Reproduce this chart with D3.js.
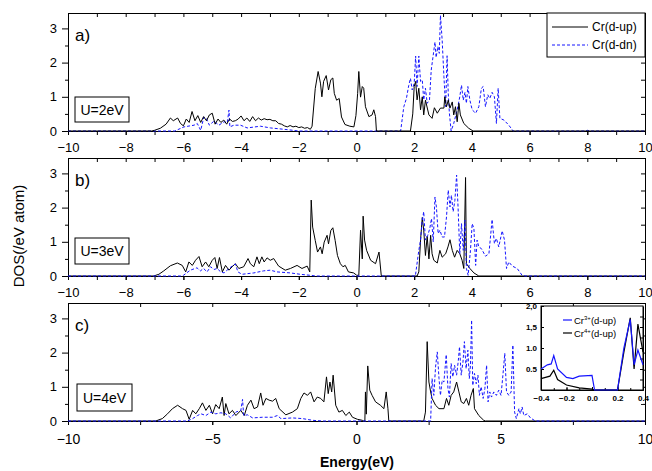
<!DOCTYPE html>
<html><head><meta charset="utf-8">
<script src="https://cdn.jsdelivr.net/npm/d3@7"></script>
<style>body{margin:0;background:#fff} svg{display:block} text{font-family:"Liberation Sans",Arial,Helvetica,sans-serif}</style>
</head><body><svg id="c" width="652" height="471"></svg>
<script>
const panelLabels = ["a)", "b)", "c)"];
const uLabels = ["U=2eV", "U=3eV", "U=4eV"];
const seriesNames = ["Cr(d-up)", "Cr(d-dn)"];
const yTicksMain = [0, 1, 2, 3];
const xTicksAB = [-10, -8, -6, -4, -2, 0, 2, 4, 6, 8, 10];
const xTicksC = [-10, -5, 0, 5, 10];

const aUp = [[-10,0],[-7.1,0],[-7.0,0.02],[-6.8,0.08],[-6.6,0.2],[-6.45,0.38],[-6.35,0.3],[-6.2,0.38],[-6.1,0.22],[-6.0,0.15],[-5.9,0.35],[-5.8,0.25],[-5.7,0.57],[-5.6,0.3],[-5.5,0.45],[-5.4,0.25],[-5.3,0.42],[-5.2,0.3],[-5.1,0.47],[-5.0,0.52],[-4.9,0.2],[-4.8,0.35],[-4.7,0.25],[-4.6,0.32],[-4.5,0.2],[-4.4,0.35],[-4.3,0.28],[-4.2,0.3],[-4.1,0.35],[-4.0,0.44],[-3.9,0.3],[-3.8,0.38],[-3.7,0.28],[-3.6,0.42],[-3.5,0.3],[-3.4,0.38],[-3.3,0.32],[-3.2,0.36],[-3.1,0.33],[-3.0,0.34],[-2.9,0.3],[-2.8,0.3],[-2.7,0.22],[-2.6,0.2],[-2.5,0.15],[-2.4,0.12],[-2.3,0.16],[-2.2,0.12],[-2.1,0.14],[-2.0,0.1],[-1.9,0.12],[-1.8,0.08],[-1.7,0.1],[-1.6,0.05],[-1.54,0.14],[-1.43,1.24],[-1.33,1.74],[-1.25,1.4],[-1.2,1.0],[-1.14,1.45],[-1.05,1.62],[-0.97,1.2],[-0.89,1.5],[-0.82,1.55],[-0.77,1.1],[-0.69,0.9],[-0.6,0.95],[-0.52,0.41],[-0.4,0.19],[-0.23,0.14],[-0.09,0.12],[-0.02,0.45],[0.04,1.1],[0.08,1.74],[0.14,0.99],[0.2,1.3],[0.25,1.25],[0.31,0.71],[0.43,0.42],[0.54,0.47],[0.6,0.62],[0.66,0.42],[0.69,0],[1.87,0],[1.95,0.5],[2.0,1.3],[2.05,1.45],[2.1,0.91],[2.16,1.25],[2.22,0.62],[2.28,1.0],[2.33,0.47],[2.39,0.9],[2.51,0.47],[2.62,0.37],[2.7,0.68],[2.8,0.52],[2.91,0.67],[3.03,0.67],[3.06,1.0],[3.12,0.71],[3.18,0.9],[3.24,0.67],[3.32,0.85],[3.37,0.47],[3.43,0.71],[3.49,0.27],[3.55,0.81],[3.6,0.47],[3.72,0.22],[3.89,0.08],[4.04,0],[10,0]];
const aDn = [[-10,0],[-6.3,0],[-5.98,0.12],[-5.63,0.17],[-5.52,0.22],[-5.4,0.02],[-5.29,0.41],[-5.2,0.36],[-5.1,0.17],[-4.94,0.29],[-4.77,0.17],[-4.59,0.27],[-4.48,0.24],[-4.42,0.61],[-4.39,0.12],[-4.25,0.17],[-4.02,0.17],[-3.79,0.09],[-3.33,0.14],[-2.98,0.09],[-2.4,0.04],[-2.0,0],[1.53,0],[1.64,0.71],[1.73,0.95],[1.81,1.33],[1.87,1.54],[1.93,1.2],[2.0,1.39],[2.05,2.19],[2.1,1.3],[2.16,2.19],[2.22,1.45],[2.28,1.49],[2.33,0.91],[2.39,1.25],[2.45,0.81],[2.53,0.91],[2.59,1.78],[2.66,2.22],[2.72,2.6],[2.76,2.15],[2.82,2.47],[2.87,2.27],[2.91,3.38],[2.97,2.65],[3.03,1.59],[3.09,0.71],[3.14,2.2],[3.18,1.1],[3.22,0.52],[3.28,0],[3.37,0.22],[3.49,0.62],[3.58,1.0],[3.64,1.34],[3.7,0.9],[3.76,1.13],[3.81,0.81],[3.86,1.3],[3.93,0.9],[4.01,0.62],[4.13,0.52],[4.24,0.71],[4.33,1.25],[4.39,1.3],[4.47,0.71],[4.55,1.06],[4.62,0.95],[4.7,1.13],[4.78,1.0],[4.85,0.22],[4.91,1.25],[4.97,0.37],[5.11,0.32],[5.28,0.17],[5.43,0],[7.9,0],[8.0,0.02],[8.1,0],[10,0]];

const bUp = [[-10,0],[-7.03,0],[-6.85,0.05],[-6.68,0.15],[-6.45,0.3],[-6.21,0.38],[-6.04,0.31],[-5.92,0.12],[-5.81,0.41],[-5.69,0.31],[-5.58,0.46],[-5.46,0.57],[-5.35,0.27],[-5.23,0.41],[-5.12,0.27],[-5.0,0.46],[-4.91,0.54],[-4.83,0.22],[-4.75,0.54],[-4.65,0.12],[-4.54,0.31],[-4.42,0.17],[-4.31,0.27],[-4.2,0.36],[-4.08,0.22],[-3.91,0.27],[-3.76,0.51],[-3.68,0.36],[-3.56,0.27],[-3.45,0.56],[-3.37,0.36],[-3.28,0.56],[-3.2,0.41],[-3.1,0.53],[-2.99,0.46],[-2.87,0.51],[-2.7,0.29],[-2.47,0.17],[-2.29,0.22],[-2.06,0.31],[-1.89,0.22],[-1.71,0.29],[-1.62,0.12],[-1.57,2.22],[-1.52,1.43],[-1.43,1.04],[-1.35,0.7],[-1.25,0.85],[-1.19,0.65],[-1.12,0.99],[-1.02,1.19],[-0.97,0.94],[-0.89,1.33],[-0.82,1.41],[-0.74,1.04],[-0.66,0.6],[-0.56,0.36],[-0.47,0.27],[-0.39,0.31],[-0.28,0.12],[-0.1,0.09],[0.01,0.02],[0.08,0.02],[0.14,1.34],[0.2,0.5],[0.23,1.75],[0.28,1.05],[0.35,0.75],[0.49,0.46],[0.66,0.36],[0.78,0.7],[0.86,0],[2.1,0],[2.16,0.12],[2.22,1.05],[2.28,1.71],[2.33,1.34],[2.39,0.6],[2.45,1.16],[2.51,0.5],[2.57,1.19],[2.62,0.65],[2.68,0.46],[2.8,0.38],[2.89,0.75],[2.97,0.55],[3.09,0.65],[3.17,0.85],[3.24,1.06],[3.32,0.75],[3.4,0.55],[3.49,0.75],[3.58,0.65],[3.66,0.46],[3.72,0.22],[3.78,2.88],[3.81,0.36],[3.93,0.22],[4.07,0.09],[4.24,0],[10,0]];
const bDn = [[-10,0],[-6.1,0],[-6.0,0.02],[-5.76,0.17],[-5.53,0.24],[-5.41,0.15],[-5.3,0.22],[-5.18,0.12],[-5.06,0.27],[-4.94,0.19],[-4.83,0.22],[-4.71,0.12],[-4.59,0.09],[-4.42,0.22],[-4.31,0.29],[-4.2,0.35],[-4.11,0.12],[-3.97,0.05],[-3.56,0.09],[-3.22,0.15],[-2.99,0.17],[-2.76,0.12],[-2.29,0.09],[-1.95,0.05],[-1.6,0.02],[-1.4,0],[2.04,0],[2.16,0.75],[2.22,1.05],[2.28,1.63],[2.33,1.88],[2.39,1.05],[2.47,1.19],[2.54,1.39],[2.6,1.68],[2.66,1.0],[2.72,2.31],[2.77,2.02],[2.83,1.24],[2.89,1.34],[2.97,1.14],[3.05,1.14],[3.12,1.73],[3.18,2.51],[3.24,2.02],[3.29,2.36],[3.35,1.88],[3.41,2.21],[3.47,2.95],[3.52,2.02],[3.58,0.65],[3.64,1.53],[3.7,0.75],[3.76,1.63],[3.81,0.22],[3.87,0.02],[3.95,0.75],[4.01,1.53],[4.07,1.39],[4.13,0.31],[4.18,1.05],[4.24,0.85],[4.33,0.8],[4.47,0.58],[4.59,0.65],[4.7,1.65],[4.78,0.95],[4.85,1.1],[4.93,0.85],[5.05,1.32],[5.13,1.05],[5.2,0.22],[5.28,0.41],[5.4,0.29],[5.57,0.22],[5.74,0.02],[5.85,0],[10,0]];

const cUp = [[-10,0],[-6.96,0],[-6.73,0.07],[-6.55,0.21],[-6.38,0.36],[-6.2,0.46],[-6.03,0.36],[-5.91,0.31],[-5.8,0.05],[-5.68,0.31],[-5.57,0.21],[-5.45,0.36],[-5.34,0.53],[-5.22,0.31],[-5.1,0.46],[-4.99,0.21],[-4.88,0.48],[-4.76,0.36],[-4.65,0.7],[-4.59,0.16],[-4.53,0.51],[-4.42,0.21],[-4.3,0.31],[-4.18,0.16],[-4.01,0.31],[-3.89,0.16],[-3.78,0.46],[-3.66,0.61],[-3.55,0.36],[-3.43,0.41],[-3.32,0.82],[-3.24,0.46],[-3.14,0.66],[-3.03,0.61],[-2.91,0.58],[-2.8,0.66],[-2.68,0.36],[-2.45,0.18],[-2.22,0.26],[-2.05,0.36],[-1.93,0.66],[-1.82,0.82],[-1.7,0.75],[-1.59,0.85],[-1.47,0.56],[-1.36,0.7],[-1.24,0.66],[-1.13,0.56],[-1.04,1.29],[-0.98,0.8],[-0.92,1.14],[-0.86,0.85],[-0.81,1.34],[-0.72,0.46],[-0.61,0.26],[-0.49,0.31],[-0.37,0.16],[-0.25,0.26],[-0.14,0.11],[0.03,0.05],[0.2,0.02],[0.25,0],[0.29,0],[0.31,0.85],[0.34,0.2],[0.39,1.61],[0.46,0.9],[0.54,0.75],[0.66,0.56],[0.83,0.46],[0.95,0.36],[1.03,0.85],[1.09,0.36],[1.12,0],[2.33,0],[2.39,0.26],[2.45,2.32],[2.51,1.14],[2.57,0.85],[2.62,0.66],[2.74,0.46],[2.86,0.36],[3.03,0.36],[3.12,0.66],[3.2,0.46],[3.28,0.75],[3.37,0.85],[3.47,1.14],[3.55,0.85],[3.63,0.56],[3.72,0.51],[3.81,0.66],[3.89,0.46],[3.97,0.75],[4.05,0.95],[4.09,0.36],[4.24,0.16],[4.41,0.02],[4.47,0],[10,0]];
const cDn = [[-10,0],[-5.86,0],[-5.68,0.07],[-5.51,0.16],[-5.39,0.21],[-5.22,0.16],[-5.05,0.26],[-4.88,0.21],[-4.7,0.24],[-4.53,0.21],[-4.36,0.09],[-4.18,0.26],[-4.01,0.31],[-3.95,0.63],[-3.91,0.16],[-3.78,0.18],[-3.6,0.09],[-3.26,0.11],[-2.91,0.11],[-2.74,0.16],[-2.62,0.07],[-2.22,0.09],[-1.87,0.07],[-1.52,0.02],[-1.18,0],[2.57,0],[2.62,1.24],[2.68,0.75],[2.74,1.58],[2.8,2.02],[2.86,1.24],[2.91,0.75],[2.97,1.19],[3.03,1.14],[3.11,1.94],[3.17,0.95],[3.22,0.7],[3.28,1.68],[3.34,1.29],[3.4,1.63],[3.47,1.34],[3.53,1.77],[3.57,2.17],[3.63,1.34],[3.69,1.72],[3.74,2.32],[3.8,1.53],[3.86,2.07],[3.91,1.24],[3.95,1.63],[3.99,2.95],[4.03,1.04],[4.09,1.39],[4.15,1.09],[4.21,1.34],[4.26,0.75],[4.32,1.0],[4.39,0.66],[4.45,0.95],[4.51,1.63],[4.56,0.56],[4.62,0.85],[4.68,0.7],[4.76,0.85],[4.85,0.75],[4.93,0.9],[5.01,0.75],[5.08,1.39],[5.14,1.98],[5.2,0.85],[5.28,0.75],[5.36,0.85],[5.42,2.22],[5.48,0.26],[5.54,0.07],[5.63,0.36],[5.68,0.21],[5.74,0.41],[5.8,0.16],[5.92,0.21],[6.03,0.09],[6.2,0],[10,0]];

const insetCr3 = [[-0.4,0.5],[-0.35,0.6],[-0.32,0.62],[-0.3,0.82],[-0.27,0.5],[-0.2,0.3],[-0.15,0.27],[-0.1,0.33],[0.0,0.35],[0.02,0],[0.2,0],[0.25,1.0],[0.3,1.68],[0.33,0.6],[0.36,0.95],[0.4,0.6]];
const insetCr4 = [[-0.4,0.27],[-0.33,0.33],[-0.3,0.47],[-0.27,0.25],[-0.2,0.12],[-0.1,0.05],[0.0,0.02],[0.02,0],[0.2,0],[0.25,0.9],[0.3,1.72],[0.33,0.5],[0.36,1.57],[0.4,0.9]];
const insetXTicks = [-0.4, -0.2, 0.0, 0.2, 0.4];
const insetYTicks = [0.5, 1.0, 1.5, 2.0];
const insetYLabels = ["0.5", "1.0", "1,5", "2,0"];
const insetNames = [["Cr", "3+", "(d-up)"], ["Cr", "4+", "(d-up)"]];

const BLUE = "#1414ff";
const svg = d3.select("#c");
const x = d3.scaleLinear().domain([-10, 10]).range([68, 645]);
const tops = [13, 158, 303], H = 118;
const panels = [
  {up: aUp, dn: aDn}, {up: bUp, dn: bDn}, {up: cUp, dn: cDn}
];
const labelBoxes = [[75, 97, 54, 25], [75, 238, 54, 26], [77, 384, 55, 27]];

function styleAxis(g) {
  g.selectAll("path,line").attr("stroke", "#000").attr("stroke-width", 1);
  g.selectAll("text").attr("fill", "#000").style("font-family", "'Liberation Sans',Arial,sans-serif");
}

panels.forEach((p, i) => {
  const t = tops[i], b = t + H;
  const y = d3.scaleLinear().domain([0, 3.45]).range([b, t]);
  const g = svg.append("g");
  const isC = i === 2;
  const majorX = isC ? xTicksC : xTicksAB;
  const minorX = isC ? d3.range(-10, 10.01, 2.5) : d3.range(-10, 10.01, 1);

  g.append("clipPath").attr("id", "clip" + i).append("rect")
    .attr("x", 68).attr("y", t).attr("width", 577).attr("height", H + 1);

  const line = d3.line().x(d => x(d[0])).y(d => y(d[1]));
  const drawDn = () => g.append("path").datum(p.dn).attr("d", line).attr("fill", "none")
      .attr("stroke", BLUE).attr("stroke-width", 1).attr("stroke-dasharray", "3,2").attr("clip-path", `url(#clip${i})`);
  const drawUp = () => g.append("path").datum(p.up).attr("d", line).attr("fill", "none")
      .attr("stroke", "#000").attr("stroke-width", 1).attr("clip-path", `url(#clip${i})`);

  g.append("g").attr("transform", `translate(0,${b})`)
    .call(d3.axisBottom(x).tickValues(minorX).tickFormat("").tickSize(4).tickSizeOuter(0)).call(styleAxis);
  g.append("g").attr("transform", `translate(0,${b})`)
    .call(d3.axisBottom(x).tickValues(majorX).tickFormat(d3.format("d")).tickSize(4).tickPadding(isC ? 9 : 8).tickSizeOuter(0))
    .call(styleAxis).call(s => s.selectAll("text").attr("font-size", isC ? 14 : 13));
  g.append("g").attr("transform", `translate(0,${t})`)
    .call(d3.axisTop(x).tickValues(minorX).tickFormat("").tickSize(-4).tickSizeOuter(0)).call(styleAxis);
  g.append("g").attr("transform", `translate(68,0)`)
    .call(d3.axisLeft(y).tickValues([0.5, 1.5, 2.5]).tickFormat("").tickSize(3).tickSizeOuter(0)).call(styleAxis);
  g.append("g").attr("transform", `translate(68,0)`)
    .call(d3.axisLeft(y).tickValues(yTicksMain).tickFormat(d3.format("d")).tickSize(6).tickPadding(5).tickSizeOuter(0))
    .call(styleAxis).call(s => s.selectAll("text").attr("font-size", 13));
  g.append("g").attr("transform", `translate(645,0)`)
    .call(d3.axisRight(y).tickValues([0.5, 1, 1.5, 2, 2.5, 3]).tickFormat("").tickSize(-4).tickSizeOuter(0)).call(styleAxis);

  if (i === 0) { drawDn(); drawUp(); } else { drawUp(); drawDn(); }

  g.append("text").attr("x", 75).attr("y", t + 28).attr("font-size", 17).text(panelLabels[i]);
  const lb = labelBoxes[i];
  g.append("rect").attr("x", lb[0]).attr("y", lb[1]).attr("width", lb[2]).attr("height", lb[3])
    .attr("fill", "#fff").attr("stroke", "#000").attr("stroke-width", 1);
  g.append("text").attr("x", lb[0] + lb[2] / 2).attr("y", lb[1] + lb[3] / 2 + 5).attr("text-anchor", "middle")
    .attr("font-size", 14).text(uLabels[i]);
});

const lg = svg.append("g");
lg.append("rect").attr("x", 547).attr("y", 13).attr("width", 98).attr("height", 44)
  .attr("fill", "#fff").attr("stroke", "#000").attr("stroke-width", 1);
lg.append("line").attr("x1", 552).attr("x2", 588).attr("y1", 27).attr("y2", 27).attr("stroke", "#000");
lg.append("line").attr("x1", 552).attr("x2", 588).attr("y1", 45).attr("y2", 45).attr("stroke", BLUE).attr("stroke-dasharray", "3,2");
lg.append("text").attr("x", 592).attr("y", 31).attr("font-size", 12).text(seriesNames[0]);
lg.append("text").attr("x", 592).attr("y", 49).attr("font-size", 12).text(seriesNames[1]);

svg.append("text").attr("transform", "translate(24,236) rotate(-90)").attr("text-anchor", "middle")
  .attr("font-size", 15).text("DOS(/eV atom)");
svg.append("text").attr("x", 357).attr("y", 467).attr("text-anchor", "middle")
  .attr("font-size", 14).attr("font-weight", "bold").text("Energy(eV)");

const ix = d3.scaleLinear().domain([-0.4, 0.4]).range([541, 643]);
const iy = d3.scaleLinear().domain([0, 2]).range([390, 306]);
const ig = svg.append("g");
ig.append("rect").attr("x", 522).attr("y", 306).attr("width", 121).attr("height", 98).attr("fill", "#fff");
ig.append("rect").attr("x", 541).attr("y", 306).attr("width", 102).attr("height", 84)
  .attr("fill", "#fff").attr("stroke", "#000").attr("stroke-width", 1);
ig.append("g").attr("transform", "translate(0,390)")
  .call(d3.axisBottom(ix).tickValues(d3.range(-0.4, 0.401, 0.1)).tickFormat("").tickSize(-2).tickSizeOuter(0)).call(styleAxis);
ig.append("g").attr("transform", "translate(0,390)")
  .call(d3.axisBottom(ix).tickValues(insetXTicks).tickFormat(d3.format(".1f")).tickSize(-3).tickPadding(5).tickSizeOuter(0))
  .call(styleAxis).call(s => s.selectAll("text").attr("font-size", 8).attr("font-weight", "bold"));
ig.append("g").attr("transform", "translate(541,0)")
  .call(d3.axisLeft(iy).tickValues(insetYTicks).tickFormat((d, k) => insetYLabels[k]).tickSize(-3).tickPadding(4).tickSizeOuter(0))
  .call(styleAxis).call(s => s.selectAll("text").attr("font-size", 8).attr("font-weight", "bold"));
ig.append("g").attr("transform", "translate(643,0)")
  .call(d3.axisRight(iy).tickValues([0.25,0.5,0.75,1,1.25,1.5,1.75]).tickFormat("").tickSize(-3).tickSizeOuter(0)).call(styleAxis);
const iline = d3.line().x(d => ix(d[0])).y(d => iy(d[1]));
ig.append("path").datum(insetCr4).attr("d", iline).attr("fill", "none").attr("stroke", "#000").attr("stroke-width", 1.2);
ig.append("path").datum(insetCr3).attr("d", iline).attr("fill", "none").attr("stroke", BLUE).attr("stroke-width", 1.2);
[[BLUE, 320], ["#000", 333]].forEach((c, k) => {
  ig.append("line").attr("x1", 563).attr("x2", 572).attr("y1", c[1]).attr("y2", c[1]).attr("stroke", c[0]).attr("stroke-width", 1.2);
  const tx = ig.append("text").attr("x", 574).attr("y", c[1] + 3.5).attr("font-size", 9.5);
  tx.append("tspan").text(insetNames[k][0]);
  tx.append("tspan").attr("dy", -3.5).attr("font-size", 6).text(insetNames[k][1]);
  tx.append("tspan").attr("dy", 3.5).text(insetNames[k][2]);
});
</script>
</body></html>
